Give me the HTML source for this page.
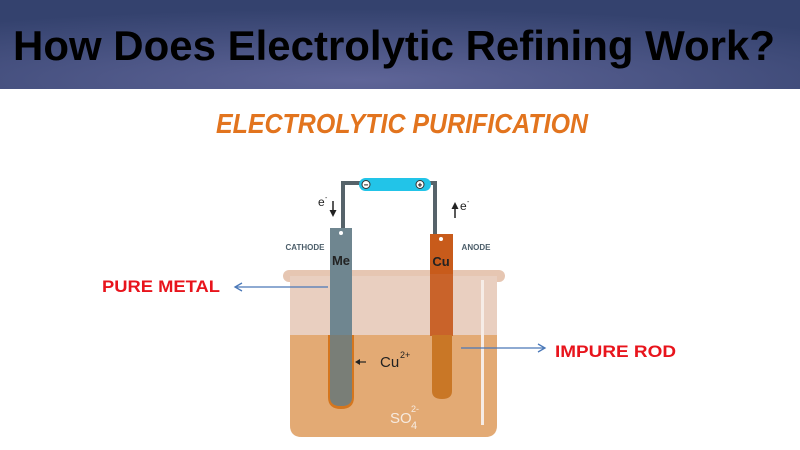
<!DOCTYPE html>
<html><head><meta charset="utf-8"><style>
html,body{margin:0;padding:0;width:800px;height:450px;overflow:hidden;background:#fff}
svg{display:block}
text{font-family:"Liberation Sans",sans-serif}
</style></head><body>
<svg width="800" height="450" viewBox="0 0 800 450">
<defs>
<radialGradient id="hg" cx="0.45" cy="0.9" r="0.8">
<stop offset="0" stop-color="#5f6598"/><stop offset="1" stop-color="#34426e"/>
</radialGradient>
</defs>
<rect x="0" y="0" width="800" height="89" fill="url(#hg)"/>
<text x="13" y="60" font-size="42" font-weight="bold" fill="#000" textLength="762" lengthAdjust="spacingAndGlyphs">How Does Electrolytic Refining Work?</text>
<text x="216" y="133" font-size="28" font-weight="bold" font-style="italic" fill="#e2741e" textLength="372" lengthAdjust="spacingAndGlyphs">ELECTROLYTIC PURIFICATION</text>

<!-- beaker -->
<rect x="283" y="270" width="222" height="12" rx="6" fill="#e6c6b2"/>
<path d="M290 276 H497 V425 Q497 437 485 437 H302 Q290 437 290 425 Z" fill="#e9cfc0"/>
<path d="M290 335 H497 V425 Q497 437 485 437 H302 Q290 437 290 425 Z" fill="#e3aa74"/>
<rect x="481" y="280" width="3" height="145" fill="#f6ece6"/>

<!-- wires -->
<path d="M343 234 V183 H435 V238" fill="none" stroke="#56636a" stroke-width="4"/>
<rect x="359" y="178" width="72" height="13" rx="6.5" fill="#22c4e8"/>
<circle cx="366" cy="184.5" r="4" fill="#fff" stroke="#333" stroke-width="1"/><text x="366" y="187.5" font-size="8" text-anchor="middle" font-weight="bold">−</text>
<circle cx="420" cy="184.5" r="4" fill="#fff" stroke="#333" stroke-width="1"/><text x="420" y="187.5" font-size="8" text-anchor="middle" font-weight="bold">+</text>

<!-- cathode -->
<path d="M328 335 V397 Q328 409 341 409 Q354 409 354 397 V335 Z" fill="#d5761e"/>
<path d="M330 228 H352 V397 Q352 406 341 406 Q330 406 330 397 Z" fill="#6f8690"/>
<path d="M330 335 H352 V397 Q352 406 341 406 Q330 406 330 397 Z" fill="#797e77"/>
<circle cx="341" cy="233" r="2" fill="#fff"/>
<text x="341" y="265" font-size="13" font-weight="bold" text-anchor="middle" fill="#222">Me</text>

<!-- anode -->
<rect x="430" y="234" width="23" height="102" fill="#c9632a"/>
<rect x="430" y="234" width="23" height="40" fill="#c85b1b"/>
<path d="M432 335 H452 V391 Q452 399 442 399 Q432 399 432 391 Z" fill="#c97726"/>
<circle cx="441" cy="239" r="2" fill="#fff"/>
<text x="441" y="266" font-size="13" font-weight="bold" text-anchor="middle" fill="#222">Cu</text>

<text x="305" y="250" font-size="8" font-weight="bold" text-anchor="middle" fill="#4c5e6a">CATHODE</text>
<text x="476" y="250" font-size="8" font-weight="bold" text-anchor="middle" fill="#4c5e6a">ANODE</text>

<text x="318" y="206" font-size="12" fill="#222">e</text><text x="325" y="200" font-size="7" fill="#222">-</text>
<path d="M333 201 V213" stroke="#222" stroke-width="1.5"/><path d="M329.5 210 L333 217 L336.5 210 Z" fill="#222"/>
<path d="M455 218 V206" stroke="#222" stroke-width="1.5"/><path d="M451.5 209 L455 202 L458.5 209 Z" fill="#222"/>
<text x="460" y="210" font-size="12" fill="#222">e</text><text x="467" y="204" font-size="7" fill="#222">-</text>

<path d="M357 362 H366" stroke="#222" stroke-width="1.2"/><path d="M360 359 L355 362 L360 365 Z" fill="#222"/>
<text x="380" y="367" font-size="15" fill="#222">Cu</text><text x="400" y="358" font-size="9" fill="#222">2+</text>
<text x="390" y="423" font-size="15" fill="#f6eadf">SO</text><text x="411" y="429" font-size="11" fill="#f6eadf">4</text><text x="411" y="412" font-size="9" fill="#f6eadf">2-</text>

<!-- labels -->
<text x="102" y="292" font-size="17" font-weight="bold" fill="#e8141c" textLength="118" lengthAdjust="spacingAndGlyphs">PURE METAL</text>
<path d="M236 287 H328" stroke="#4a78b8" stroke-width="1.3"/>
<path d="M242 283 L235 287 L242 291" fill="none" stroke="#4a78b8" stroke-width="1.3"/>
<text x="555" y="357" font-size="17" font-weight="bold" fill="#e8141c" textLength="121" lengthAdjust="spacingAndGlyphs">IMPURE ROD</text>
<path d="M461 348 H544" stroke="#4a78b8" stroke-width="1.3"/>
<path d="M538 344 L545 348 L538 352" fill="none" stroke="#4a78b8" stroke-width="1.3"/>
</svg>
</body></html>
